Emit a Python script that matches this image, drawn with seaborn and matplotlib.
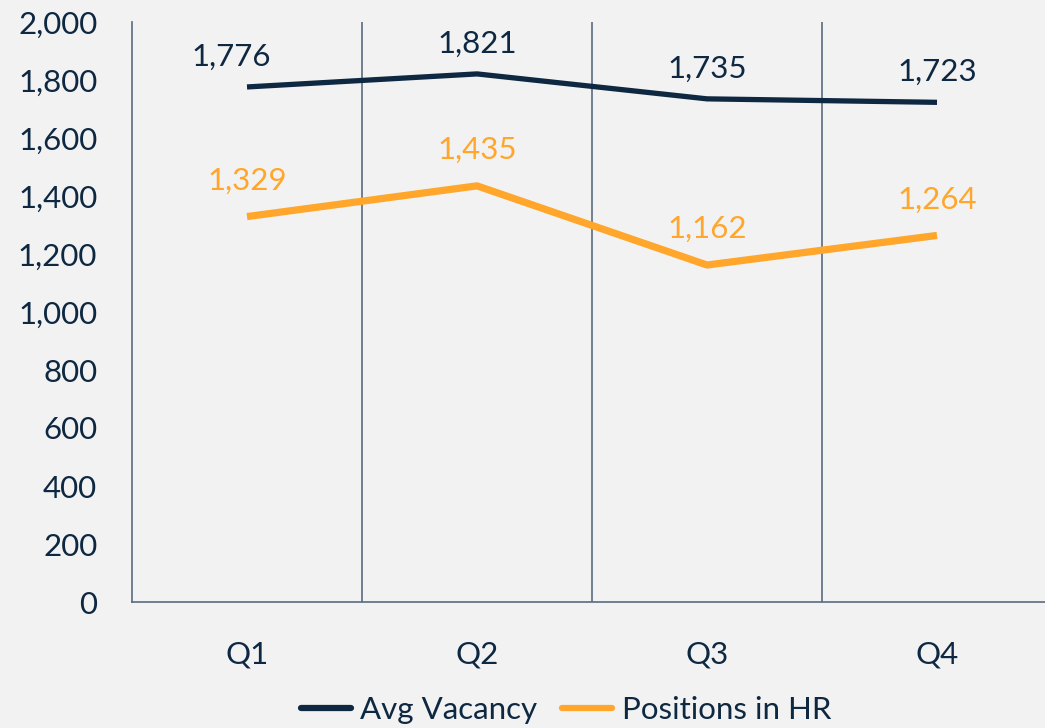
import pandas as pd
import matplotlib.pyplot as plt
import seaborn as sns
from matplotlib.ticker import FuncFormatter, MultipleLocator

quarters = ["Q1", "Q2", "Q3", "Q4"]
avg_vacancy = [1776, 1821, 1735, 1723]
positions_hr = [1329, 1435, 1162, 1264]
series_names = ["Avg Vacancy", "Positions in HR"]

NAVY = "#0E2841"
ORANGE = "#FFA62B"
GRID = "#5A6B80"
BG = "#F2F2F2"

df = pd.DataFrame({
    "Quarter": quarters * 2,
    "Value": avg_vacancy + positions_hr,
    "Series": [series_names[0]] * 4 + [series_names[1]] * 4,
})

sns.set_style("white")
plt.rcParams["font.family"] = ["Lato", "DejaVu Sans"]
FS = 22.5

fig = plt.figure(figsize=(10.45, 7.28), dpi=100, facecolor=BG)
ax = fig.add_axes([132 / 1045, 1 - 602 / 728, 920 / 1045, 580 / 728])
ax.set_facecolor(BG)

sns.lineplot(data=df, x="Quarter", y="Value", hue="Series", sort=False,
             palette=[NAVY, ORANGE], ax=ax, legend=False)
ax.lines[0].set_linewidth(3.8)
ax.lines[1].set_linewidth(5.2)
ax.lines[1].set_solid_capstyle("butt")
ax.lines[0].set_solid_capstyle("butt")

# data labels
x_shift = [[-0.07, 0, 0, 0], [0, 0, 0, 0]]
for s, (vals, col) in enumerate([(avg_vacancy, NAVY), (positions_hr, ORANGE)]):
    for i, v in enumerate(vals):
        ax.annotate(f"{v:,}", (i + x_shift[s][i], v), xytext=(0, 22 if s == 0 else 26),
                    textcoords="offset points", ha="center", va="center",
                    color=col, fontsize=FS)

ax.set_xlim(-0.5, 3.5)
ax.set_ylim(0, 2000)
ax.yaxis.set_major_locator(MultipleLocator(200))
ax.yaxis.set_major_formatter(FuncFormatter(lambda v, p: f"{int(v):,}"))
ax.set_xticks(range(4))
ax.set_xticks([0.5, 1.5, 2.5], minor=True)
ax.grid(which="minor", axis="x", color=GRID, linewidth=1.2)
ax.tick_params(which="both", length=0)
ax.tick_params(axis="y", labelsize=FS, labelcolor=NAVY, pad=25)
ax.tick_params(axis="x", labelsize=FS, labelcolor=NAVY, pad=28)
ax.set_xlabel("")
ax.set_ylabel("")

for side in ["top", "right"]:
    ax.spines[side].set_visible(False)
for side in ["left", "bottom"]:
    ax.spines[side].set_color(GRID)
    ax.spines[side].set_linewidth(1.2)

handles = [plt.Line2D([], [], color=NAVY, linewidth=4.5),
           plt.Line2D([], [], color=ORANGE, linewidth=4.5)]
fig.legend(handles, series_names, loc="center", bbox_to_anchor=(566 / 1045, 1 - 710 / 728),
           ncol=2, frameon=False, fontsize=FS, labelcolor=NAVY,
           handlelength=1.6, handletextpad=0.3, columnspacing=0.8)

fig.savefig("out.png", dpi=100, facecolor=BG)
